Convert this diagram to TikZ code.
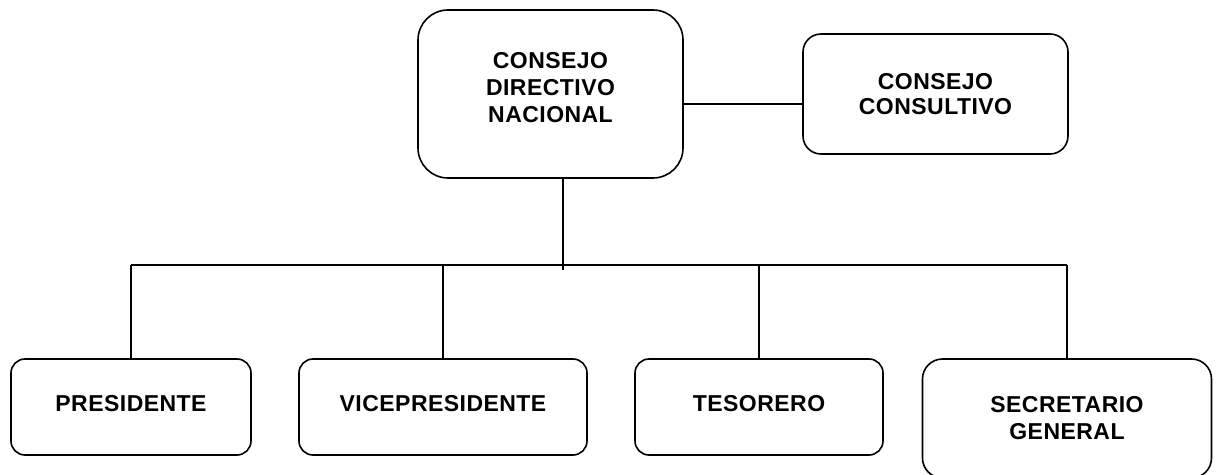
\documentclass[tikz,border=0pt]{standalone}
\usepackage{fontspec}
\setmainfont{Liberation Sans}[LetterSpace=2]

\tikzset{
  box/.style={draw, align=center, inner sep=0pt,
    font=\bfseries\fontsize{23bp}{27bp}\selectfont},
  lowbox/.style={box, rounded corners=14bp, minimum height=96bp, text depth=8bp},
}

\begin{document}
\begin{tikzpicture}[x=1bp, y=-1bp, line width=1.6bp]
		%%%%% START %%%%%
		\useasboundingbox (0,0) rectangle (1216,475);
		
		% top
		\node[box, rounded corners=30bp, minimum width=265bp, minimum height=168bp] (cdn) at (550.5,94)
			{CONSEJO\\DIRECTIVO\\NACIONAL\rule[-14bp]{0pt}{14bp}};
		\node[box, rounded corners=18bp, minimum width=265bp, minimum height=120bp,
			font=\bfseries\fontsize{23bp}{25bp}\selectfont] (cc) at (935.5,94)
			{CONSEJO\\CONSULTIVO};
		\draw ([yshift=-10bp]cdn.east) -- ([yshift=-10bp]cdn.east -| cc.west);
		
		% bottom row
		\node[lowbox, minimum width=240bp] (pres) at (131,407) {PRESIDENTE};
		\node[lowbox, minimum width=288bp] (vice) at (443,407) {VICEPRESIDENTE};
		\node[lowbox, minimum width=248bp] (tes) at (759,407) {TESORERO};
		\node[box, rounded corners=20bp, minimum width=289bp, minimum height=119bp] (sec) at (1067,418.5)
			{SECRETARIO\\GENERAL};
		
		% connectors
		\coordinate (hub) at (563,270);
		\coordinate (bar) at (563,265);
		\draw (cdn.south -| hub) -- (hub);
		\draw (pres.north |- bar) -- (sec.north |- bar);
		\foreach \b in {pres,vice,tes,sec}
			\draw (\b.north |- bar) -- (\b.north);
		%%%%% END %%%%%
\end{tikzpicture}
\end{document}
